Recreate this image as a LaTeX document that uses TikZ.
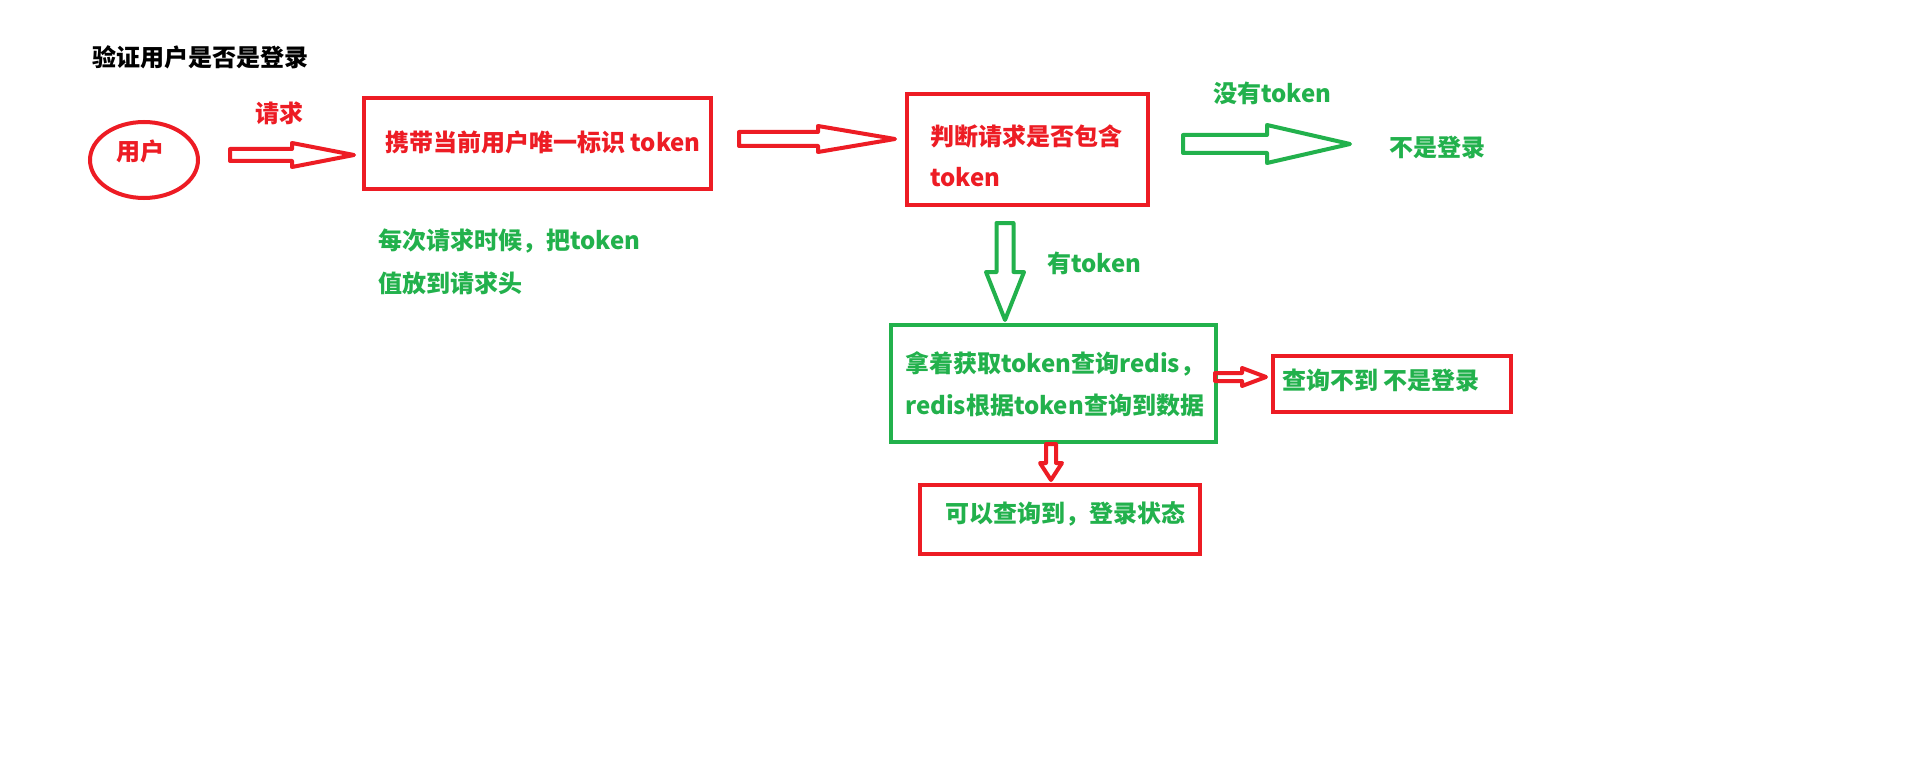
\documentclass[tikz,border=0pt]{standalone}
\usepackage{fontspec}
\usepackage{xcolor}
\usepackage{tikz}
\usetikzlibrary{calc,shapes.geometric}
\newfontfamily\cjk{Noto Sans CJK SC}
\definecolor{paintred}{HTML}{ED1C24}
\definecolor{paintgreen}{HTML}{22B14C}

% hollow block arrow: style, from, to, half shaft, half head, head length
\newcommand{\hollowarrow}[6]{%
  \draw[#1] let \p1=($(#3)-(#2)$), \n1={atan2(\y1,\x1)}, \n2={veclen(\x1,\y1)} in
    [shift={(#2)}, rotate=\n1]
    (0,#4) -- (\n2-#6,#4) -- (\n2-#6,#5) -- (\n2,0) -- (\n2-#6,-#5) -- (\n2-#6,-#4) -- (0,-#4) -- cycle;
}

\begin{document}
\begin{tikzpicture}[x=1pt, y=-1pt,
    txt/.style={font=\cjk\bfseries\fontsize{24}{42}\selectfont, inner sep=0pt, anchor=west, align=left},
    redtxt/.style={txt, text=paintred},
    greentxt/.style={txt, text=paintgreen},
    redbox/.style={draw=paintred, line width=4pt, inner sep=0pt},
    greenbox/.style={draw=paintgreen, line width=4pt, inner sep=0pt},
    redarrow/.style={draw=paintred, line width=4pt, line join=round},
    greenarrow/.style={draw=paintgreen, line width=4pt, line join=round}]
    \useasboundingbox[fill=white] (0,0) rectangle (1907,757);

    \node[txt] (title) at (92,57) {验证用户是否是登录};

    \node[ellipse, draw=paintred, line width=4pt, inner sep=0pt,
          minimum width=108pt, minimum height=76pt] (user) at (144,160) {};
    \node[redtxt] (userlbl) at (116,151) {用户};
    \node[redtxt] (reqlbl) at (255,113) {请求};

    \node[redbox, minimum width=347pt, minimum height=91pt] (carry) at (537.5,143.5) {};
    \node[redtxt] (carrylbl) at (385,142) {携带当前用户唯一标识 token};
    \node[greentxt, font=\cjk\bfseries\fontsize{24}{43}\selectfont] (headernote) at (378,261.5)
        {每次请求时候，把token\\值放到请求头};

    \node[redbox, minimum width=241pt, minimum height=111pt] (check) at (1027.5,149.5) {};
    \node[redtxt, font=\cjk\bfseries\fontsize{24}{41}\selectfont] (checklbl) at (930,155.5)
        {判断请求是否包含\\token};

    \node[greentxt] (notoken) at (1213,93) {没有token};
    \node[greentxt] (notlogin) at (1389,147) {不是登录};
    \node[greentxt] (hastoken) at (1047,263) {有token};

    \node[greenbox, minimum width=325pt, minimum height=117pt] (query) at (1053,383.5) {};
    \node[greentxt] (querylbl) at (905,384)
        {拿着获取token查询redis，\\redis根据token查询到数据};

    \node[redbox, minimum width=238pt, minimum height=56pt] (notfound) at (1392,384) {};
    \node[greentxt] (notfoundlbl) at (1282,380) {查询不到 不是登录};

    \node[redbox, minimum width=280pt, minimum height=69pt] (found) at (1060,519.5) {};
    \node[greentxt] (foundlbl) at (945,514) {可以查询到，登录状态};

    \coordinate (a1s) at (230,155);   \coordinate (a1e) at (354,155);
    \coordinate (a2s) at (739,139);   \coordinate (a2e) at (895,139);
    \coordinate (a3s) at (1183,144);  \coordinate (a3e) at (1350,144);
    \coordinate (a4s) at (1005,223);  \coordinate (a4e) at (1005,320);
    \coordinate (a5s) at (1215,377);  \coordinate (a5e) at (1266,377);
    \coordinate (a6s) at (1051,444);  \coordinate (a6e) at (1051,480);

    \hollowarrow{redarrow}{a1s}{a1e}{6}{12}{62}
    \hollowarrow{redarrow}{a2s}{a2e}{7}{13}{77}
    \hollowarrow{greenarrow}{a3s}{a3e}{9}{19}{83}
    \hollowarrow{greenarrow}{a4s}{a4e}{8.5}{19}{48}
    \hollowarrow{redarrow}{a5s}{a5e}{4}{9}{24}
    \hollowarrow{redarrow}{a6s}{a6e}{5}{11}{17}
\end{tikzpicture}
\end{document}
